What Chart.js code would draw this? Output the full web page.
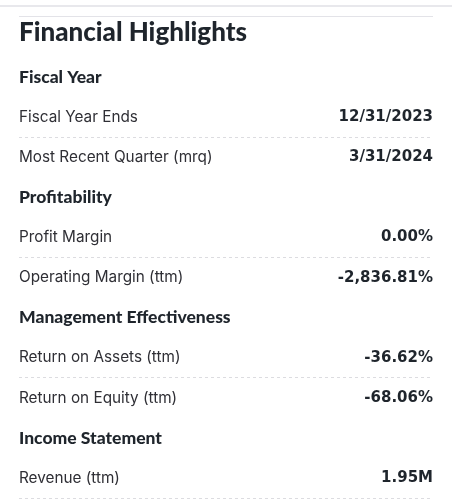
<!DOCTYPE html>
<html>
<head>
<meta charset="utf-8">
<script src="https://cdn.jsdelivr.net/npm/chart.js@4"></script>
<style>
    html, body { margin: 0; padding: 0; background: #ffffff; }
    #wrap { position: relative; width: 452px; height: 500px; }
</style>
</head>
<body>
<div id="wrap"><canvas id="highlightsChart"></canvas></div>
<script>
// Rows of the table, top to bottom (section headers included)
const rowLabels = [
    'Fiscal Year',
    'Fiscal Year Ends',
    'Most Recent Quarter (mrq)',
    'Profitability',
    'Profit Margin',
    'Operating Margin (ttm)',
    'Management Effectiveness',
    'Return on Assets (ttm)',
    'Return on Equity (ttm)',
    'Income Statement',
    'Revenue (ttm)'
];
const rowValues = ['', '12/31/2023', '3/31/2024', '', '0.00%', '-2,836.81%', '', '-36.62%', '-68.06%', '', '1.95M'];
const headerRows = [0, 3, 6, 9];
// grid line index (offset grid) that gets a dashed separator
const dashedLines = [2, 5, 8, 11];

const TEXT_DARK = '#1f252c';
const TEXT_LABEL = '#2f2f35';
const HEAD_FONT = "Lato, 'Roboto Condensed', sans-serif";

// thin rules above the title
const topRules = {
    id: 'topRules',
    beforeDraw(chart) {
        const c = chart.ctx;
        c.save();
        c.strokeStyle = '#e8e8ec';
        c.lineWidth = 2;
        c.beginPath();
        c.moveTo(0, 6);
        c.lineTo(chart.width, 6);
        c.stroke();
        c.lineWidth = 1;
        c.strokeStyle = '#e3e3e8';
        c.beginPath();
        c.moveTo(19, 16.5);
        c.lineTo(433, 16.5);
        c.stroke();
        c.restore();
    }
};

const ctx = document.getElementById('highlightsChart').getContext('2d');
new Chart(ctx, {
    type: 'bar',
    data: {
        labels: rowLabels,
        datasets: [
            { data: rowLabels.map(() => null), yAxisID: 'y' },
            { data: rowLabels.map(() => null), yAxisID: 'y2' }
        ]
    },
    options: {
        indexAxis: 'y',
        responsive: true,
        maintainAspectRatio: false,
        animation: false,
        layout: { padding: { left: 19, right: 19, top: 0, bottom: 1.5 } },
        plugins: {
            legend: { display: false },
            tooltip: { enabled: false },
            title: {
                display: true,
                text: 'Financial Highlights',
                align: 'start',
                color: TEXT_DARK,
                font: { family: HEAD_FONT, size: 26, weight: '900', lineHeight: 1.2 },
                padding: { top: 17, bottom: 8.8 }
            }
        },
        scales: {
            x: { type: 'linear', display: false, min: 0, max: 1 },
            y: {
                type: 'category',
                position: 'left',
                offset: true,
                border: { display: false, dash: [3, 3] },
                grid: {
                    offset: true,
                    drawTicks: false,
                    lineWidth: 1,
                    color: (c) => {
                        if (c.type !== 'tick') return '#dcdce0';
                        return dashedLines.includes(c.index) ? '#dcdce0' : 'rgba(0,0,0,0)';
                    }
                },
                ticks: {
                    mirror: true,
                    padding: 0,
                    autoSkip: false,
                    crossAlign: 'near',
                    color: (c) => headerRows.includes(c.index) ? TEXT_DARK : TEXT_LABEL,
                    font: (c) => headerRows.includes(c.index)
                        ? { family: HEAD_FONT, size: 17.5, weight: '900', lineHeight: 0.2 }
                        : { family: "Inter, 'Liberation Sans', sans-serif", size: 15.3, weight: 'normal', lineHeight: 0.2 }
                }
            },
            y2: {
                type: 'category',
                position: 'right',
                labels: rowValues,
                offset: true,
                border: { display: false },
                grid: { display: false, drawTicks: false },
                ticks: {
                    mirror: true,
                    padding: 0,
                    autoSkip: false,
                    crossAlign: 'near',
                    color: TEXT_DARK,
                    font: { family: "'DejaVu Sans', sans-serif", size: 15, weight: 'bold', lineHeight: 0.2 }
                }
            }
        }
    },
    plugins: [topRules]
});
</script>
</body>
</html>
